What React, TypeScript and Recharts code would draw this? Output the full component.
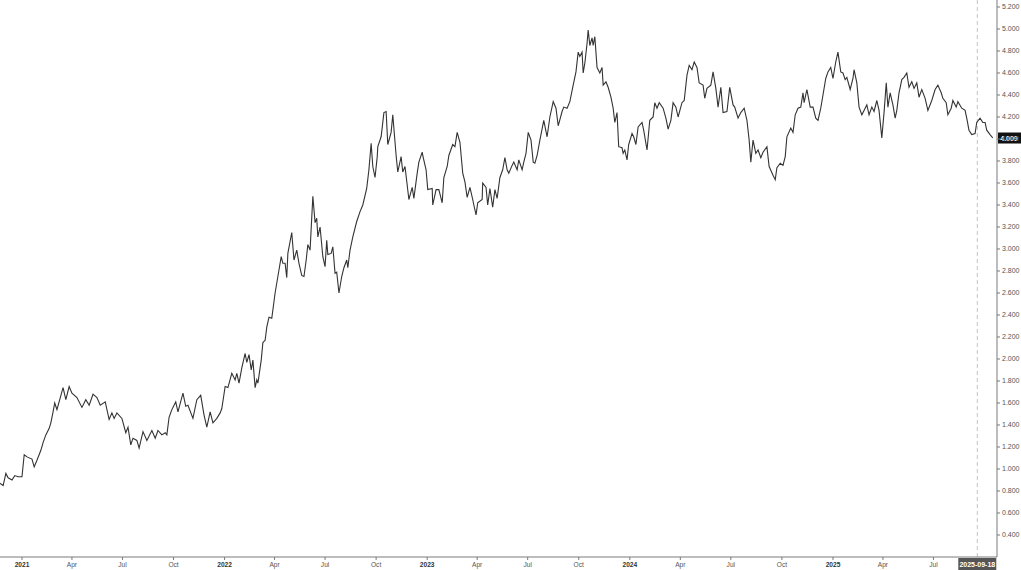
import React from 'react'
import { LineChart, Line, XAxis, YAxis, ReferenceLine } from 'recharts'

const days2021 = [-40, -34, -29, -25, -18, -13, -7, 0, 4, 9, 18, 22, 27, 34, 38, 43, 49, 52, 56, 59, 63, 68, 74, 79, 85, 90, 99, 108, 115, 121, 128, 135, 141, 150, 157, 162, 166, 171, 180, 187, 191, 196, 200, 207, 211, 218, 225, 234, 240, 245, 252, 258, 261, 265, 270, 277, 281, 290, 295, 299, 308, 315, 322, 328, 333, 339, 344, 351, 357, 360]
const close2021 = [0.87, 0.85, 0.96, 0.92, 0.9, 0.94, 0.93, 0.93, 1.13, 1.11, 1.09, 1.02, 1.08, 1.17, 1.24, 1.31, 1.37, 1.42, 1.52, 1.6, 1.54, 1.63, 1.74, 1.63, 1.75, 1.69, 1.65, 1.56, 1.63, 1.58, 1.68, 1.65, 1.58, 1.61, 1.45, 1.51, 1.46, 1.51, 1.46, 1.33, 1.38, 1.22, 1.28, 1.26, 1.19, 1.34, 1.26, 1.35, 1.28, 1.35, 1.31, 1.33, 1.31, 1.47, 1.54, 1.61, 1.52, 1.69, 1.57, 1.58, 1.46, 1.63, 1.67, 1.49, 1.38, 1.52, 1.42, 1.46, 1.51, 1.55]

const days2022 = [366, 371, 378, 384, 387, 391, 396, 402, 405, 409, 413, 416, 420, 423, 425, 431, 434, 438, 441, 445, 450, 456, 461, 467, 470, 474, 477, 479, 486, 490, 495, 499, 504, 508, 512, 515, 519, 524, 528, 531, 533, 537, 542, 546, 549, 551, 557, 560, 564, 567, 571, 576, 580, 585, 587, 591, 596, 603, 609, 614, 621, 625, 629, 632, 636, 640, 641, 647, 652, 656, 659, 665, 668, 674, 677, 683, 686, 690, 694, 697, 703, 706, 712, 715, 721, 722, 728]
const close2022 = [1.75, 1.74, 1.87, 1.81, 1.87, 1.78, 1.92, 2.05, 1.97, 2.04, 1.9, 1.99, 1.74, 1.81, 1.78, 1.99, 2.15, 2.17, 2.29, 2.38, 2.37, 2.6, 2.75, 2.93, 2.87, 2.87, 2.74, 2.96, 3.15, 2.9, 2.99, 2.87, 2.76, 2.75, 2.9, 3.04, 2.99, 3.48, 3.24, 3.28, 3.11, 3.2, 2.93, 2.84, 3.08, 2.95, 2.96, 3.02, 2.78, 2.79, 2.6, 2.75, 2.83, 2.9, 2.83, 2.99, 3.11, 3.25, 3.34, 3.4, 3.55, 3.72, 3.96, 3.75, 3.65, 3.84, 3.93, 4.02, 4.24, 4.25, 3.95, 4.06, 4.22, 3.85, 3.7, 3.84, 3.7, 3.75, 3.58, 3.45, 3.56, 3.46, 3.69, 3.79, 3.88, 3.85, 3.72]

const days2023 = [731, 739, 740, 746, 751, 757, 760, 766, 769, 776, 780, 784, 789, 794, 798, 802, 807, 812, 814, 818, 821, 829, 830, 836, 839, 843, 848, 852, 856, 861, 866, 870, 874, 877, 883, 886, 892, 895, 901, 904, 908, 912, 917, 921, 924, 928, 933, 940, 946, 951, 957, 962, 966, 973, 976, 982, 987, 993, 998, 1002, 1005, 1009, 1011, 1014, 1018, 1020, 1023, 1027, 1029, 1032, 1036, 1041, 1045, 1047, 1052, 1056, 1061, 1065, 1068, 1072, 1075, 1081, 1083, 1086, 1090, 1093]
const close2023 = [3.54, 3.55, 3.4, 3.54, 3.54, 3.42, 3.65, 3.75, 3.85, 3.95, 3.93, 4.06, 3.97, 3.69, 3.61, 3.47, 3.56, 3.45, 3.4, 3.31, 3.42, 3.45, 3.6, 3.56, 3.4, 3.55, 3.38, 3.54, 3.46, 3.65, 3.72, 3.83, 3.72, 3.69, 3.76, 3.79, 3.72, 3.81, 3.72, 3.79, 3.87, 4.06, 3.99, 3.79, 3.78, 3.85, 3.99, 4.17, 4.02, 4.2, 4.34, 4.28, 4.12, 4.25, 4.29, 4.28, 4.34, 4.49, 4.61, 4.79, 4.75, 4.79, 4.6, 4.69, 4.87, 4.99, 4.85, 4.92, 4.85, 4.93, 4.65, 4.6, 4.65, 4.49, 4.52, 4.47, 4.38, 4.28, 4.15, 4.24, 3.93, 3.92, 3.87, 3.9, 3.81, 3.95]

const days2024 = [1099, 1102, 1106, 1110, 1117, 1120, 1126, 1131, 1137, 1140, 1144, 1148, 1155, 1160, 1164, 1169, 1173, 1178, 1182, 1189, 1193, 1198, 1202, 1207, 1211, 1216, 1220, 1227, 1230, 1234, 1241, 1245, 1250, 1254, 1259, 1263, 1270, 1275, 1281, 1284, 1290, 1295, 1301, 1306, 1310, 1313, 1317, 1322, 1326, 1331, 1335, 1342, 1346, 1353, 1357, 1360, 1366, 1371, 1375, 1378, 1385, 1389, 1393, 1398, 1403, 1407, 1409, 1414, 1420, 1425, 1430, 1434, 1439, 1443, 1448, 1452, 1457]
const close2024 = [4.05, 4.02, 3.95, 4.11, 4.15, 4.08, 3.9, 4.17, 4.2, 4.33, 4.28, 4.33, 4.28, 4.19, 4.09, 4.17, 4.33, 4.29, 4.2, 4.33, 4.35, 4.58, 4.67, 4.63, 4.7, 4.65, 4.51, 4.49, 4.37, 4.46, 4.49, 4.61, 4.46, 4.29, 4.47, 4.24, 4.25, 4.47, 4.31, 4.29, 4.19, 4.24, 4.28, 4.17, 3.99, 3.79, 3.99, 3.87, 3.9, 3.83, 3.88, 3.93, 3.75, 3.67, 3.63, 3.74, 3.78, 3.76, 3.84, 4.02, 4.1, 4.06, 4.22, 4.28, 4.29, 4.42, 4.33, 4.45, 4.29, 4.29, 4.19, 4.17, 4.28, 4.4, 4.55, 4.61, 4.65]

const days2025 = [1461, 1466, 1470, 1475, 1479, 1483, 1486, 1492, 1497, 1499, 1504, 1508, 1513, 1517, 1522, 1526, 1531, 1535, 1540, 1544, 1549, 1553, 1557, 1560, 1564, 1569, 1573, 1576, 1580, 1585, 1589, 1594, 1598, 1603, 1607, 1612, 1616, 1621, 1627, 1632, 1639, 1645, 1650, 1656, 1659, 1665, 1668, 1674, 1677, 1683, 1686, 1693, 1699, 1702, 1706, 1711, 1717, 1720, 1726, 1731, 1735, 1738, 1744, 1749]
const close2025 = [4.55, 4.7, 4.79, 4.61, 4.6, 4.54, 4.56, 4.45, 4.55, 4.63, 4.51, 4.29, 4.22, 4.26, 4.31, 4.22, 4.29, 4.25, 4.35, 4.26, 4.01, 4.24, 4.51, 4.29, 4.42, 4.31, 4.19, 4.26, 4.42, 4.54, 4.56, 4.6, 4.47, 4.52, 4.46, 4.51, 4.38, 4.45, 4.37, 4.26, 4.35, 4.45, 4.49, 4.42, 4.37, 4.33, 4.22, 4.28, 4.35, 4.29, 4.34, 4.28, 4.26, 4.19, 4.08, 4.04, 4.05, 4.15, 4.19, 4.15, 4.15, 4.08, 4.04, 4.009]

// month-start ticks on the time axis
const tickDays = [0, 90, 181, 273, 365, 455, 546, 638, 730, 820, 911, 1003, 1095, 1186, 1277, 1369, 1461, 1551, 1642]
const tickLabels = ['2021', 'Apr', 'Jul', 'Oct', '2022', 'Apr', 'Jul', 'Oct', '2023', 'Apr', 'Jul', 'Oct', '2024', 'Apr', 'Jul', 'Oct', '2025', 'Apr', 'Jul']
const priceTicks = [0.4, 0.6, 0.8, 1.0, 1.2, 1.4, 1.6, 1.8, 2.0, 2.2, 2.4, 2.6, 2.8, 3.0, 3.2, 3.4, 3.6, 3.8, 4.0, 4.2, 4.4, 4.6, 4.8, 5.0, 5.2]

const crosshairDay = 1721
const crosshairLabel = '2025-09-18'
const lastClose = 4.009

const data = [
  [days2021, close2021],
  [days2022, close2022],
  [days2023, close2023],
  [days2024, close2024],
  [days2025, close2025],
].flatMap(([d, c]) => d.map((day, i) => ({ day, close: c[i] })))

const FONT = '"Liberation Sans", Arial, sans-serif'

function XTick({ x, y, payload }: any) {
  const label = tickLabels[tickDays.indexOf(payload.value)] ?? ''
  const isYear = /^\d{4}$/.test(label)
  return (
    <text x={x} y={y} dy={6} textAnchor="middle" fontSize={6.6} fontFamily={FONT}
      fill={isYear ? '#333' : '#555'} fontWeight={isYear ? 700 : 400}>
      {label}
    </text>
  )
}

function YTick({ x, y, payload }: any) {
  return (
    <text x={x} y={y} dy={2.5} textAnchor="start" fontSize={7} fontFamily={FONT} fill="#555">
      {payload.value.toFixed(3)}
    </text>
  )
}

function DateBox({ viewBox }: any) {
  const cx = viewBox.x
  const bottom = viewBox.y + viewBox.height
  return (
    <g>
      <rect x={cx - 19} y={bottom + 1} width={38} height={12} fill="#555" />
      <text x={cx} y={bottom + 10} textAnchor="middle" fontSize={7} fontWeight={700} fontFamily={FONT} fill="#fff">
        {crosshairLabel}
      </text>
    </g>
  )
}

function PriceBox({ viewBox }: any) {
  const left = viewBox.x + viewBox.width
  const cy = viewBox.y
  return (
    <g>
      <rect x={left + 1} y={cy - 5.5} width={24} height={11} fill="#111" />
      <text x={left + 12} y={cy + 2.5} textAnchor="middle" fontSize={7} fontWeight={700} fontFamily={FONT} fill="#fff">
        {lastClose.toFixed(3)}
      </text>
    </g>
  )
}

export default function App() {
  return (
    <div style={{ position: 'absolute', left: 0, top: 0, width: 1021, height: 570, background: '#fff' }}>
      <LineChart width={1021} height={570} data={data} margin={{ top: 0, right: 0, bottom: 0, left: 0 }}>
        <XAxis
          dataKey="day"
          type="number"
          domain={[-39.6, 1756.5]}
          ticks={tickDays}
          interval={0}
          tick={<XTick />}
          height={13}
          tickSize={3}
          tickMargin={1}
          stroke="#7a7a7a"
          allowDataOverflow
        />
        <YAxis
          orientation="right"
          type="number"
          domain={[0.2, 5.2636]}
          ticks={priceTicks}
          interval={0}
          tick={<YTick />}
          width={24}
          tickSize={3}
          tickMargin={2}
          stroke="#7a7a7a"
          allowDataOverflow
        />
        <ReferenceLine x={crosshairDay} stroke="#c4c4c4" strokeDasharray="4 3" label={<DateBox />} />
        <Line
          type="linear"
          dataKey="close"
          stroke="#333"
          strokeWidth={1.1}
          dot={false}
          isAnimationActive={false}
        />
        <ReferenceLine y={lastClose} stroke="none" strokeOpacity={0} label={<PriceBox />} />
      </LineChart>
    </div>
  )
}
